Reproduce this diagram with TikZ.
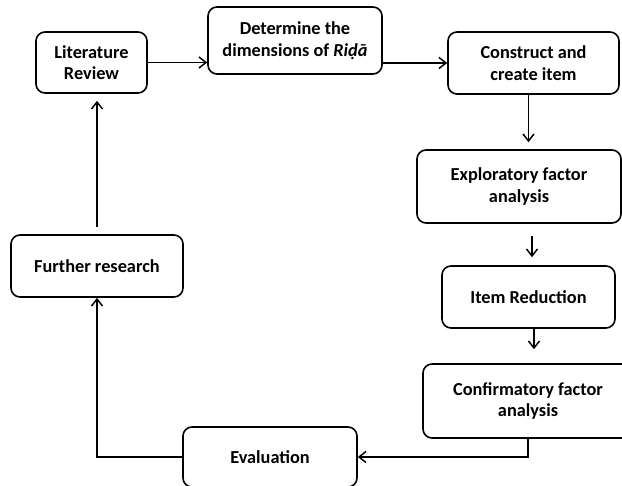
\documentclass[tikz,border=0pt]{standalone}
\usepackage{fontspec}
\setmainfont{Carlito}
\usetikzlibrary{arrows.meta}

\tikzset{
  stage/.style={draw, line width=1.6pt, rounded corners=9pt, align=center,
    font=\bfseries\fontsize{18.3}{21.5}\selectfont, inner sep=0pt},
  arr/.style={-{Straight Barb[length=7pt,width=11pt]}, line width=1.5pt},
}

\begin{document}
\begin{tikzpicture}[x=1pt,y=-1pt]
	\useasboundingbox (0,0) rectangle (622,486);
	%\draw[lightgray] (0,0) grid[step=50] (622,486);
	\node[stage, minimum width=111, minimum height=61] (lit) at (91.5,62.5) {Literature\\Review};
	\node[stage, minimum width=174, minimum height=67] (det) at (295,40.5) {Determine the\\dimensions of \textit{Ri\d{d}\=a}};
	\node[stage, minimum width=171, minimum height=62] (con) at (533.5,63) {Construct and\\create item};
	\node[stage, minimum width=204, minimum height=73] (exp) at (519,186.5) {Exploratory factor\\analysis};
	\node[stage, minimum width=173, minimum height=62] (red) at (528.5,297) {Item Reduction};
	\node[stage, minimum width=210, minimum height=74] (conf) at (528,401) {Confirmatory factor\\analysis};
	\node[stage, minimum width=174, minimum height=60] (eval) at (270,457) {Evaluation};
	\node[stage, minimum width=172, minimum height=62] (fur) at (97,266) {Further research};
	
	\draw[arr] (lit.east) -- (lit.east -| det.west);
	\draw[arr] (con.west -| det.east) -- (con.west);
	\draw[arr, shorten >=7pt] (con.south -| red.north) -- (exp.north -| red.north);
	\draw[arr, shorten <=12pt, shorten >=8pt] ([xshift=3.5pt]exp.south -| red.north) -- ([xshift=3.5pt]red.north);
	\draw[arr, shorten >=14pt] ([xshift=5.5pt]red.south) -- ([xshift=5.5pt]red.south |- conf.north);
	\draw[arr] (conf.south) |- (eval.east);
	\draw[arr] (eval.west) -| (fur.south);
	\draw[arr, shorten <=7pt, shorten >=7pt] (fur.north) -- (fur.north |- lit.south);
\end{tikzpicture}
\end{document}
